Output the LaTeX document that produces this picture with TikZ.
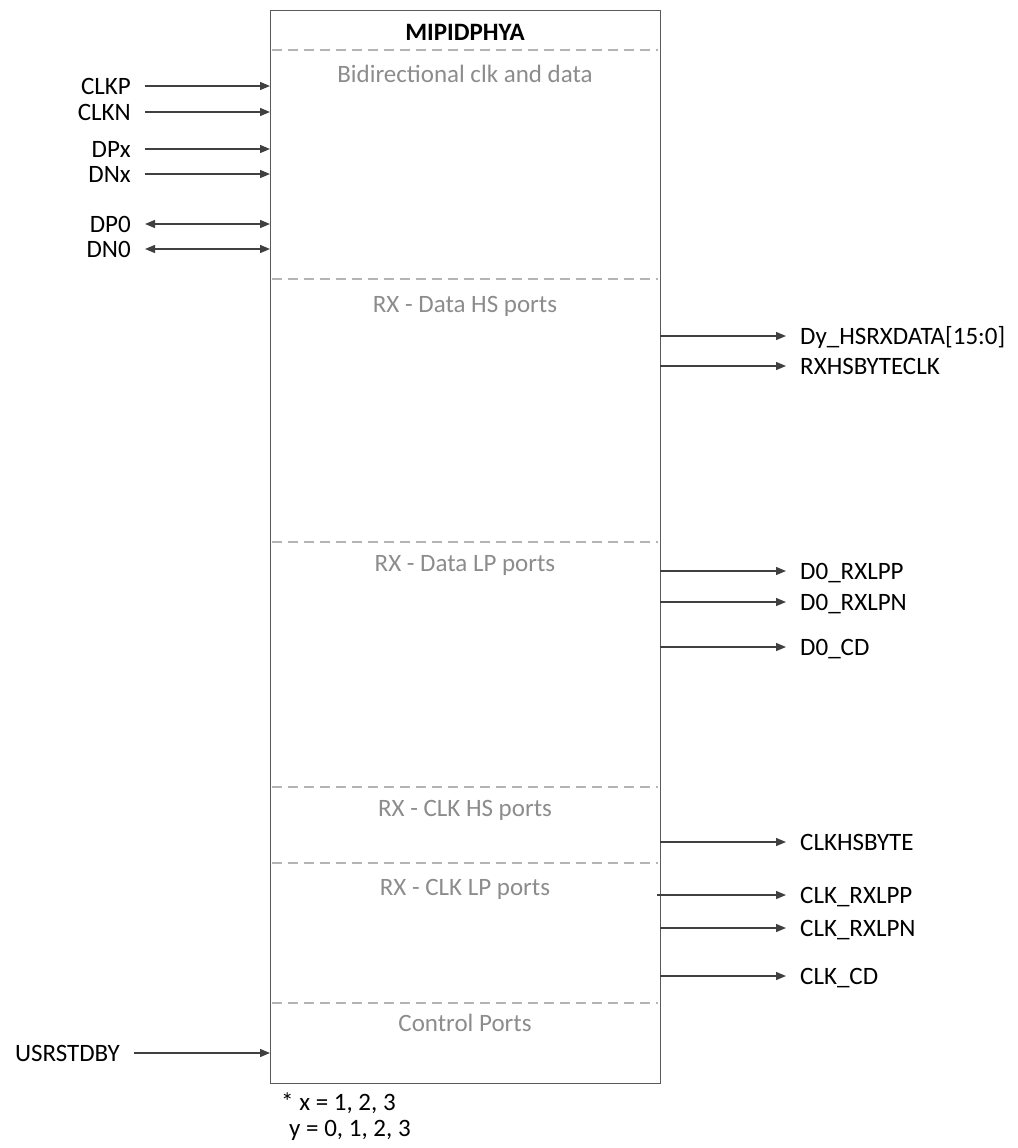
\documentclass[tikz,border=0pt]{standalone}
\usepackage{fontspec}
\setmainfont{Carlito}
\usetikzlibrary{arrows.meta}
\definecolor{linec}{HTML}{404040}
\definecolor{boxc}{HTML}{5A5A5A}
\definecolor{secc}{HTML}{8C8C8C}
\definecolor{dashc}{HTML}{B4B4B4}
\begin{document}
\begin{tikzpicture}[x=1pt,y=-1pt,
  font=\fontsize{25}{30}\selectfont,
  blockbox/.style={draw=boxc,line width=1.3pt,minimum width=390pt,minimum height=1073pt,anchor=north west,inner sep=0pt},
  sepline/.style={draw=dashc,line width=1.3pt,dash pattern=on 10pt off 6pt},
  sectitle/.style={text=secc,inner sep=0pt,text height=17pt,text depth=0pt},
  inlbl/.style={anchor=east,inner xsep=14pt,inner ysep=0pt,text height=17pt,text depth=0pt},
  outlbl/.style={anchor=west,inner xsep=14pt,inner ysep=0pt,text height=17pt,text depth=0pt},
  portarrow/.style={draw=linec,line width=1.3pt,-{Triangle[length=10pt,width=8pt]}},
  bidiarrow/.style={draw=linec,line width=1.3pt,{Triangle[length=10pt,width=8pt]}-{Triangle[length=10pt,width=8pt]}},
  note/.style={anchor=west,inner sep=0pt,text height=17pt,text depth=0pt}
]
\useasboundingbox (0,0) rectangle (1017,1148);

% main block
\node[blockbox] (box) at (270,10) {};
\node[font=\fontsize{25}{30}\selectfont\bfseries,inner sep=0pt,text height=17pt,text depth=0pt] (title) at (465,32) {MIPIDPHYA};

% section separators
\foreach \yy/\nm in {50/s1,279/s2,542/s3,787/s4,863/s5,1003/s6}{
  \coordinate (\nm l) at (272,\yy);
  \coordinate (\nm r) at (658,\yy);
  \draw[sepline] (\nm l) -- (\nm r);
}

% section titles
\node[sectitle] (t1) at (465,74) {Bidirectional clk and data};
\node[sectitle] (t2) at (465,304) {RX - Data HS ports};
\node[sectitle] (t3) at (465,563) {RX - Data LP ports};
\node[sectitle] (t4) at (465,808) {RX - CLK HS ports};
\node[sectitle] (t5) at (465,887) {RX - CLK LP ports};
\node[sectitle] (t6) at (465,1023) {Control Ports};

% left inputs
\foreach \yy/\nm/\txt in {86/clkp/CLKP,112/clkn/CLKN,149/dpx/DPx,174/dnx/DNx}{
  \node[inlbl] (\nm) at (145,\yy) {\txt};
  \coordinate (\nm b) at (270,\yy);
  \draw[portarrow] (\nm.east) -- (\nm b);
}
\foreach \yy/\nm/\txt in {224/dp0/DP0,249/dn0/DN0}{
  \node[inlbl] (\nm) at (145,\yy) {\txt};
  \coordinate (\nm b) at (270,\yy);
  \draw[bidiarrow] (\nm.east) -- (\nm b);
}
\node[inlbl] (usr) at (134,1053) {USRSTDBY};
\coordinate (usrb) at (270,1053);
\draw[portarrow] (usr.east) -- (usrb);

% right outputs
\foreach \yy/\nm/\txt/\xs in {336/hsd/Dy\_HSRXDATA[15:0]/660,366/hsclk/RXHSBYTECLK/660,571/lpp/D0\_RXLPP/660,602/lpn/D0\_RXLPN/660,647/dcd/D0\_CD/660,842/chs/CLKHSBYTE/660,895/clpp/CLK\_RXLPP/657,928/clpn/CLK\_RXLPN/660,976/ccd/CLK\_CD/660}{
  \node[outlbl] (\nm) at (786,\yy) {\txt};
  \coordinate (\nm b) at (\xs,\yy);
  \draw[portarrow] (\nm b) -- (\nm.west);
}

% footnote
\node[note] (n1) at (281,1102) {* x = 1, 2, 3};
\node[note] (n2) at (289,1128) {y = 0, 1, 2, 3};
\end{tikzpicture}
\end{document}
